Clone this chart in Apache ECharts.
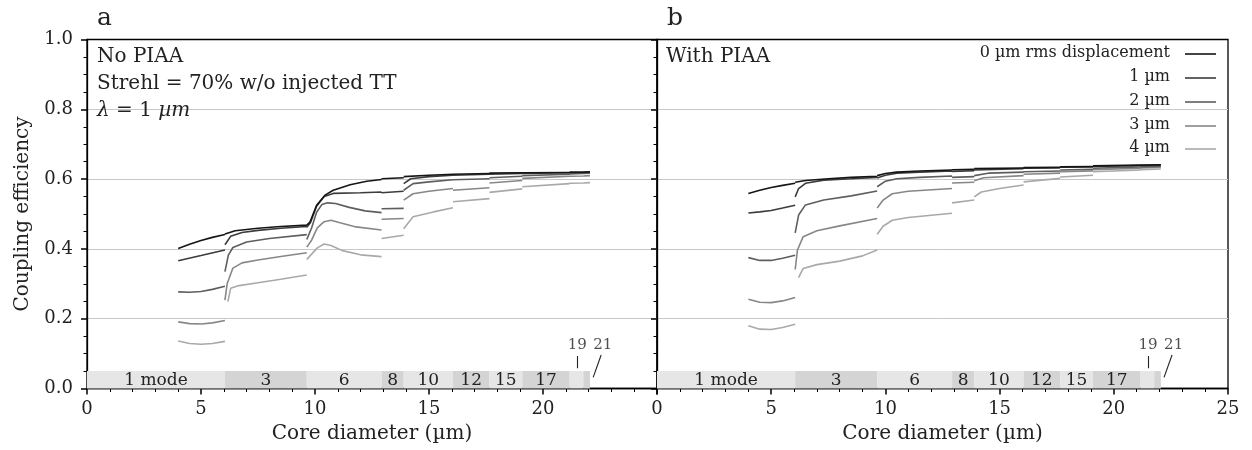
<!DOCTYPE html>
<html><head><meta charset="utf-8">
<script src="https://cdn.jsdelivr.net/npm/echarts@6/dist/echarts.min.js"></script>
<style>html,body{margin:0;padding:0;background:#fff}#c{width:1252px;height:450px}</style>
</head><body><div id="c"></div><script>
const FONT = 'DejaVu Serif';
const TXT = '#222';

// ---- labels / categories ----
const seriesNames = ['0 µm rms displacement', '1 µm', '2 µm', '3 µm', '4 µm'];
const seriesColors = ['#151515', '#3c3c3c', '#5e5e5e', '#878787', '#a9a9a9'];
const modeLabels = ['1 mode', '3', '6', '8', '10', '12', '15', '17', '19', '21'];
const modeEdges = [0, 6.05, 9.64, 12.92, 13.89, 16.05, 17.65, 19.09, 21.17, 21.77, 22.06];
const yTickValues = [0, 0.2, 0.4, 0.6, 0.8, 1.0];
const xTickValues = [0, 5, 10, 15, 20, 25];

// ---- panel a: No PIAA (segments of [core diameter, coupling]) ----
const noPiaa0 = [
  [[4,0.401],[4.5,0.413],[5,0.424],[5.5,0.433],[6.05,0.441]],
  [[6.05,0.443],[6.5,0.452],[7.5,0.459],[8.5,0.464],[9.64,0.468]],
  [[9.64,0.468],[9.78,0.477],[10.07,0.525],[10.44,0.554],[10.8,0.568],[11.54,0.584],[12.27,0.594],[12.92,0.599]],
  [[12.92,0.601],[13.89,0.604]],
  [[13.89,0.607],[15,0.611],[16.05,0.614]],
  [[16.05,0.614],[17.65,0.616]],
  [[17.65,0.617],[19.09,0.618]],
  [[19.09,0.618],[21.17,0.619]],
  [[21.17,0.620],[21.77,0.620]],
  [[21.77,0.620],[22.06,0.621]]
];
const noPiaa1 = [
  [[4,0.366],[5,0.381],[6.05,0.397]],
  [[6.05,0.412],[6.3,0.436],[6.8,0.447],[7.5,0.453],[8.5,0.459],[9.64,0.464]],
  [[9.64,0.462],[9.8,0.475],[10.07,0.522],[10.4,0.550],[10.8,0.559],[12,0.561],[12.92,0.563]],
  [[12.92,0.561],[13.89,0.565]],
  [[13.89,0.587],[14.2,0.601],[15,0.607],[16.05,0.611]],
  [[16.05,0.611],[17.65,0.614]],
  [[17.65,0.614],[19.09,0.616]],
  [[19.09,0.616],[21.17,0.618]],
  [[21.17,0.618],[21.77,0.619]],
  [[21.77,0.619],[22.06,0.620]]
];
const noPiaa2 = [
  [[4,0.277],[4.5,0.276],[5,0.278],[5.5,0.284],[6.05,0.293]],
  [[6.05,0.335],[6.2,0.382],[6.4,0.404],[7,0.420],[8,0.430],[9.64,0.441]],
  [[9.64,0.427],[9.85,0.46],[10.07,0.505],[10.3,0.527],[10.55,0.532],[10.9,0.530],[11.5,0.519],[12.2,0.509],[12.92,0.504]],
  [[12.92,0.515],[13.89,0.516]],
  [[13.89,0.568],[14.3,0.587],[15,0.592],[16.05,0.598]],
  [[16.05,0.598],[17.65,0.601]],
  [[17.65,0.604],[19.09,0.608]],
  [[19.09,0.610],[21.17,0.614]],
  [[21.17,0.615],[21.77,0.616]],
  [[21.77,0.616],[22.06,0.617]]
];
const noPiaa3 = [
  [[4,0.191],[4.5,0.186],[5,0.185],[5.5,0.188],[6.05,0.195]],
  [[6.05,0.253],[6.15,0.301],[6.4,0.345],[6.8,0.360],[7.5,0.368],[8.5,0.378],[9.64,0.389]],
  [[9.64,0.405],[9.85,0.425],[10.1,0.46],[10.4,0.478],[10.7,0.482],[11.1,0.475],[11.8,0.463],[12.92,0.454]],
  [[12.92,0.485],[13.89,0.487]],
  [[13.89,0.540],[14.3,0.558],[15,0.565],[16.05,0.573]],
  [[16.05,0.568],[17.65,0.575]],
  [[17.65,0.589],[19.09,0.596]],
  [[19.09,0.602],[21.17,0.608]],
  [[21.17,0.608],[21.77,0.609]],
  [[21.77,0.609],[22.06,0.610]]
];
const noPiaa4 = [
  [[4,0.136],[4.5,0.129],[5,0.127],[5.5,0.129],[6.05,0.135]],
  [[6.18,0.249],[6.3,0.287],[6.6,0.294],[7.5,0.303],[8.5,0.313],[9.64,0.325]],
  [[9.64,0.37],[9.85,0.385],[10.1,0.403],[10.4,0.414],[10.7,0.410],[11.2,0.395],[12,0.383],[12.92,0.378]],
  [[12.92,0.430],[13.89,0.439]],
  [[13.89,0.458],[14.3,0.492],[15.2,0.506],[16.05,0.518]],
  [[16.05,0.535],[17.65,0.544]],
  [[17.65,0.562],[19.09,0.572]],
  [[19.09,0.578],[21.17,0.587]],
  [[21.17,0.588],[21.77,0.589]],
  [[21.77,0.589],[22.06,0.590]]
];

// ---- panel b: With PIAA ----
const withPiaa0 = [
  [[4,0.559],[4.5,0.568],[5,0.576],[5.5,0.582],[6.05,0.588]],
  [[6.05,0.591],[6.5,0.596],[7.5,0.601],[8.5,0.605],[9.64,0.608]],
  [[9.64,0.610],[10,0.616],[10.5,0.620],[11.5,0.623],[12.92,0.626]],
  [[12.92,0.627],[13.89,0.628]],
  [[13.89,0.630],[16.05,0.632]],
  [[16.05,0.633],[17.65,0.634]],
  [[17.65,0.635],[19.09,0.636]],
  [[19.09,0.638],[21.17,0.640]],
  [[21.17,0.640],[22.06,0.641]]
];
const withPiaa1 = [
  [[4,0.503],[4.5,0.506],[5,0.510],[5.5,0.517],[6.05,0.525]],
  [[6.05,0.549],[6.2,0.573],[6.5,0.588],[7.3,0.597],[8.5,0.601],[9.64,0.605]],
  [[9.64,0.603],[10,0.611],[10.5,0.617],[11.5,0.620],[12.92,0.623]],
  [[12.92,0.622],[13.89,0.624]],
  [[13.89,0.626],[16.05,0.630]],
  [[16.05,0.631],[17.65,0.632]],
  [[17.65,0.634],[19.09,0.635]],
  [[19.09,0.636],[21.17,0.639]],
  [[21.17,0.639],[22.06,0.640]]
];
const withPiaa2 = [
  [[4,0.375],[4.5,0.367],[5,0.367],[5.5,0.373],[6.05,0.382]],
  [[6.05,0.446],[6.2,0.497],[6.5,0.526],[7.3,0.540],[8.5,0.552],[9.64,0.566]],
  [[9.64,0.578],[10,0.594],[10.5,0.601],[11.5,0.605],[12.92,0.609]],
  [[12.92,0.605],[13.89,0.607]],
  [[13.89,0.610],[14.5,0.617],[16.05,0.620]],
  [[16.05,0.621],[17.65,0.623]],
  [[17.65,0.626],[19.09,0.628]],
  [[19.09,0.631],[21.17,0.635]],
  [[21.17,0.635],[22.06,0.637]]
];
const withPiaa3 = [
  [[4,0.256],[4.5,0.247],[5,0.246],[5.5,0.251],[6.05,0.261]],
  [[6.05,0.341],[6.15,0.397],[6.4,0.435],[7,0.452],[8,0.466],[9.64,0.487]],
  [[9.64,0.517],[9.9,0.540],[10.3,0.558],[11,0.565],[12.92,0.573]],
  [[12.92,0.589],[13.89,0.591]],
  [[13.89,0.595],[14.3,0.604],[16.05,0.610]],
  [[16.05,0.614],[17.65,0.617]],
  [[17.65,0.621],[19.09,0.623]],
  [[19.09,0.627],[21.17,0.631]],
  [[21.17,0.632],[22.06,0.634]]
];
const withPiaa4 = [
  [[4,0.180],[4.5,0.170],[5,0.169],[5.5,0.175],[6.05,0.184]],
  [[6.2,0.318],[6.4,0.344],[7,0.355],[8,0.365],[9,0.38],[9.64,0.397]],
  [[9.64,0.442],[9.9,0.465],[10.3,0.482],[11,0.490],[12.92,0.502]],
  [[12.92,0.532],[13.89,0.540]],
  [[13.89,0.549],[14.2,0.563],[15,0.573],[16.05,0.583]],
  [[16.05,0.592],[17.65,0.602]],
  [[17.65,0.606],[19.09,0.611]],
  [[19.09,0.621],[21.17,0.626]],
  [[21.17,0.627],[22.06,0.629]]
];

const panelA = [noPiaa0, noPiaa1, noPiaa2, noPiaa3, noPiaa4];
const panelB = [withPiaa0, withPiaa1, withPiaa2, withPiaa3, withPiaa4];

function joinSegments(segs) {
  const out = [];
  segs.forEach((s, i) => {
    if (i > 0) out.push([s[0][0], '-']);
    s.forEach(p => out.push(p));
  });
  return out;
}

const bandColors = ['#e6e6e6', '#d4d4d4'];
function modeAreas() {
  const areas = [];
  for (let i = 0; i < modeLabels.length; i++) {
    const hideLabel = i >= 8;
    areas.push([
      { name: modeLabels[i], xAxis: modeEdges[i], yAxis: 0,
        itemStyle: { color: bandColors[i % 2] },
        label: { show: !hideLabel } },
      { xAxis: modeEdges[i + 1], yAxis: 0.05 }
    ]);
  }
  return areas;
}

const series = [];
[panelA, panelB].forEach((panel, g) => {
  panel.forEach((segs, k) => {
    const s = {
      type: 'line', xAxisIndex: g, yAxisIndex: g,
      data: joinSegments(segs), showSymbol: false, symbol: 'none',
      connectNulls: false, smooth: false,
      lineStyle: { color: seriesColors[k], width: 1.6 },
      z: 10 - k, silent: true
    };
    if (k === 0) {
      s.markArea = {
        silent: true, z: 1,
        label: { position: 'inside', offset: [0, 1], color: TXT, fontFamily: FONT, fontSize: 17 },
        data: modeAreas()
      };
    }
    series.push(s);
  });
  // small labels for 19 / 21 modes above the bands
  series.push({
    type: 'scatter', xAxisIndex: g, yAxisIndex: g, symbolSize: 0, silent: true,
    data: [{ name: modeLabels[8], value: [21.5, 0.123] }, { name: modeLabels[9], value: [22.62, 0.123] }],
    label: { show: true, position: 'inside', formatter: p => p.name, color: TXT, fontFamily: FONT, fontSize: 15 },
    markLine: {
      silent: true, symbol: ['none', 'none'], label: { show: false },
      lineStyle: { color: '#222', width: 1.1, type: 'solid' },
      data: [
        [{ coord: [21.5, 0.058] }, { coord: [21.5, 0.093] }],
        [{ coord: [22.2, 0.032] }, { coord: [22.55, 0.096] }]
      ]
    }
  });
});

function yAxis(g) {
  return {
    gridIndex: g, type: 'value', min: 0, max: 1, interval: 0.2,
    axisLine: { show: true, lineStyle: { color: '#000', width: 1.3 } },
    axisTick: { show: true, inside: false, length: 6, lineStyle: { color: '#000', width: 1.5 } },
    minorTick: { show: true, splitNumber: 4, length: 3.5, lineStyle: { color: '#000', width: 1 } },
    splitLine: { show: true, showMinLine: false, showMaxLine: false, lineStyle: { color: '#c8c8c8', width: 1 } },
    axisLabel: { show: g === 0, margin: 14, fontFamily: FONT, fontSize: 18, color: TXT,
      formatter: v => yTickValues.some(t => Math.abs(t - v) < 1e-9) ? v.toFixed(1) : '' },
    name: g === 0 ? 'Coupling efficiency' : '', nameLocation: 'middle', nameGap: 54,
    nameTextStyle: { fontFamily: FONT, fontSize: 20, color: TXT }
  };
}
function xAxis(g) {
  return {
    gridIndex: g, type: 'value', min: 0, max: 25, interval: 5,
    axisLine: { show: true, onZero: false, lineStyle: { color: '#000', width: 1.3 } },
    axisTick: { show: true, inside: false, length: 6, lineStyle: { color: '#000', width: 1.5 } },
    minorTick: { show: true, splitNumber: 5, length: 3.5, lineStyle: { color: '#000', width: 1 } },
    splitLine: { show: false },
    axisLabel: { margin: 12, fontFamily: FONT, fontSize: 18, color: TXT,
      formatter: v => (g === 0 && v === 25) ? '' : (xTickValues.indexOf(v) >= 0 ? String(v) : '') },
    name: 'Core diameter (µm)', nameLocation: 'middle', nameGap: 32,
    nameTextStyle: { fontFamily: FONT, fontSize: 20, color: TXT }
  };
}

const legendRowsY = [53, 77, 101, 125, 148];
const graphics = [];
seriesNames.forEach((n, i) => {
  graphics.push({ type: 'text', x: 1170, y: legendRowsY[i], z: 100,
    style: { text: n, align: 'right', verticalAlign: 'middle', font: '16px "' + FONT + '"', fill: TXT } });
  graphics.push({ type: 'line', z: 100, shape: { x1: 1185, y1: legendRowsY[i] + 1, x2: 1216, y2: legendRowsY[i] + 1 },
    style: { stroke: seriesColors[i], lineWidth: 1.6 } });
});
const annotA = ['No PIAA', 'Strehl = 70% w/o injected TT'];
annotA.forEach((t, i) => graphics.push({ type: 'text', x: 97, y: 57 + 27 * i, z: 100,
  style: { text: t, verticalAlign: 'middle', font: '20px "' + FONT + '"', fill: TXT } }));
graphics.push({ type: 'text', x: 97, y: 111, z: 100,
  style: { text: '{i|λ} = 1 {i|µm}', verticalAlign: 'middle', font: '20px "' + FONT + '"', fill: TXT,
    rich: { i: { fontStyle: 'italic', fontFamily: FONT, fontSize: 20, fill: TXT } } } });
graphics.push({ type: 'text', x: 666, y: 57, z: 100,
  style: { text: 'With PIAA', verticalAlign: 'middle', font: '20px "' + FONT + '"', fill: TXT } });
graphics.push({ type: 'text', x: 97, y: 18,
  style: { text: 'a', verticalAlign: 'middle', font: '25px "' + FONT + '"', fill: TXT } });
graphics.push({ type: 'text', x: 667, y: 18,
  style: { text: 'b', verticalAlign: 'middle', font: '25px "' + FONT + '"', fill: TXT } });

const chart = echarts.init(document.getElementById('c'), null, { renderer: 'canvas' });
chart.setOption({
  animation: false,
  backgroundColor: '#fff',
  grid: [
    { left: 87, top: 39.5, width: 570, height: 349, show: true, borderColor: '#000', borderWidth: 1.3, containLabel: false },
    { left: 657, top: 39.5, width: 571, height: 349, show: true, borderColor: '#000', borderWidth: 1.3, containLabel: false }
  ],
  xAxis: [xAxis(0), xAxis(1)],
  yAxis: [yAxis(0), yAxis(1)],
  series: series,
  graphic: graphics
});
</script></body></html>
